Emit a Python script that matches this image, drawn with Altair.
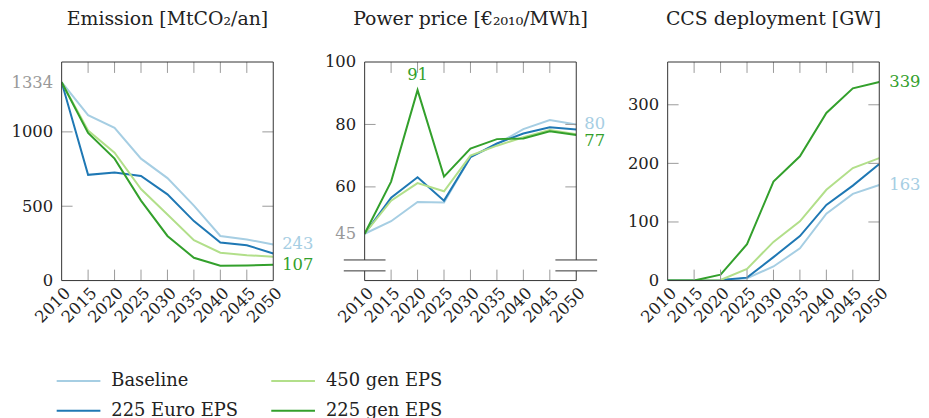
import altair as alt
import pandas as pd

FONT = "DejaVu Serif"
TXT = "#222222"
TICK = "#9a9a9a"
FRAME = "#333333"
W, H = 213, 220
TL = 11  # inward tick length

years = [2010, 2015, 2020, 2025, 2030, 2035, 2040, 2045, 2050]
scenarios = ["Baseline", "225 Euro EPS", "450 gen EPS", "225 gen EPS"]
colors = ["#a6cee3", "#1f78b4", "#b2df8a", "#33a02c"]

# Emission [MtCO2/an]
emission_baseline = [1334, 1113, 1027, 820, 689, 504, 300, 276, 243]
emission_euro225 = [1334, 711, 727, 704, 580, 400, 256, 238, 182]
emission_gen450 = [1334, 1009, 860, 616, 444, 271, 187, 171, 160]
emission_gen225 = [1334, 993, 820, 538, 300, 153, 100, 102, 107]

# Power price [EUR2010/MWh]
price_baseline = [45, 49.0, 55.2, 55.0, 69.5, 73.7, 78.5, 81.4, 80]
price_euro225 = [45, 56.5, 63.1, 55.6, 69.5, 73.9, 77.1, 79.1, 78.4]
price_gen450 = [45, 55.6, 61.2, 58.6, 70.0, 73.2, 75.9, 78.2, 76.9]
price_gen225 = [45, 61.7, 91, 63.3, 72.3, 75.3, 75.5, 77.8, 76.6]

# CCS deployment [GW]
ccs_baseline = [0, 0, 0, 4, 24, 55, 114, 148, 163]
ccs_euro225 = [0, 0, 1, 5, 40, 76, 129, 162, 199]
ccs_gen450 = [0, 0, 1, 20, 66, 101, 155, 192, 209]
ccs_gen225 = [0, 0, 10, 62, 169, 212, 286, 328, 339]

emission_domain = [0, 1470]
emission_ticks = [0, 500, 1000, 1334]
emission_inner = [500, 1000]
price_domain = [30, 100]
price_ticks = [45, 60, 80, 100]
price_inner = [60, 80]
price_break = [33.1, 36.6]
ccs_domain = [0, 373]
ccs_ticks = [0, 100, 200, 300]
ccs_inner = [100, 200, 300]

titles = ["Emission [MtCO\u2082/an]", "Power price [\u20ac\u2082\u2080\u2081\u2080/MWh]", "CCS deployment [GW]"]


def long_df(series):
    rows = []
    for scen, vals in series.items():
        for yr, v in zip(years, vals):
            rows.append({"year": yr, "value": v, "scenario": scen})
    return pd.DataFrame(rows)


xscale = alt.Scale(domain=[2010, 2050], nice=False, zero=False)
cscale = alt.Scale(domain=scenarios, range=colors)
legend = alt.Legend(
    title=None, orient="none", legendX=5, legendY=309, columns=2,
    symbolType="M-2,0H2", symbolSize=484, symbolStrokeWidth=2,
    labelFont=FONT, labelFontSize=18, labelColor=TXT, labelOffset=21,
    columnPadding=29, rowPadding=9, padding=0,
)
xaxis = alt.Axis(
    values=years, format="d", labelAngle=-45, title=None, grid=False,
    domain=False, ticks=False, tickSize=0, labelPadding=4, labelFlush=False,
    labelOverlap=False, labelFont=FONT, labelFontSize=16.5, labelColor=TXT)


def one(d):
    return alt.Chart(pd.DataFrame([d]))


def panel(series, ydomain, yticks, inner, gray_tick, labels, title, title_offset, breaks=None):
    df = long_df(series)
    yscale = alt.Scale(domain=ydomain, nice=False, zero=False)
    yaxis = alt.Axis(
        values=yticks, format="d", title=None, grid=False, domain=False, ticks=False, tickSize=0,
        labelPadding=9, labelFlush=False, labelOverlap=False, labelFont=FONT,
        labelFontSize=16.5,
        labelColor={"condition": {"test": f"datum.value === {gray_tick}", "value": "#999999"}, "value": TXT})

    def X(f):
        return alt.X(f, scale=xscale, axis=xaxis)

    def Y(f):
        return alt.Y(f, scale=yscale, axis=yaxis)

    lines = alt.Chart(df).mark_line(strokeWidth=2, clip=True).encode(
        x=X("year:Q"), y=Y("value:Q"),
        color=alt.Color("scenario:N", scale=cscale, legend=legend),
        order=alt.Order("ord:Q"),
    ).transform_calculate(ord=f"indexof({scenarios}, datum.scenario)")

    layers = [lines]
    # end / peak labels
    for (scen, yr, val, txt, dx, dy, align) in labels:
        layers.append(one({"year": yr, "value": val, "scenario": scen, "t": txt}).mark_text(
            align=align, baseline="middle", dx=dx, dy=dy, font=FONT, fontSize=16.5).encode(
            x=X("year:Q"), y=Y("value:Q"),
            color=alt.Color("scenario:N", scale=cscale, legend=None),
            text="t:N"))

    # inward ticks
    xt = pd.DataFrame({"year": years[1:-1]})
    yt = pd.DataFrame({"value": inner})
    for a, b in [(0, TL), (H - TL, H)]:
        layers.append(alt.Chart(xt).mark_rule(color=TICK, strokeWidth=1).encode(
            x=X("year:Q"), y=alt.value(a), y2=alt.value(b)))
    for a, b in [(0, TL), (W - TL, W)]:
        layers.append(alt.Chart(yt).mark_rule(color=TICK, strokeWidth=1).encode(
            y=Y("value:Q"), x=alt.value(a), x2=alt.value(b)))

    # frame
    layers.append(one({"k": 0}).mark_rule(color=FRAME, strokeWidth=1).encode(
        x=alt.value(0), x2=alt.value(W), y=alt.value(0)))
    layers.append(one({"k": 0}).mark_rule(color=FRAME, strokeWidth=1).encode(
        x=alt.value(0), x2=alt.value(W), y=alt.value(H)))
    if breaks is None:
        for xv in (0, W):
            layers.append(one({"k": 0}).mark_rule(color=FRAME, strokeWidth=1).encode(
                x=alt.value(xv), y=alt.value(0), y2=alt.value(H)))
    else:
        lo, hi = breaks
        segs = pd.DataFrame({"value": [ydomain[0], hi], "b": [lo, ydomain[1]]})
        bk = pd.DataFrame({"value": breaks})
        for xv in (0, W):
            layers.append(alt.Chart(segs).mark_rule(color=FRAME, strokeWidth=1).encode(
                x=alt.value(xv), y=Y("value:Q"), y2="b:Q"))
            layers.append(alt.Chart(bk).mark_rule(color=FRAME, strokeWidth=1).encode(
                x=alt.value(xv - 21), x2=alt.value(xv + 21), y=Y("value:Q")))

    return alt.layer(*layers).properties(
        width=W, height=H,
        title=alt.TitleParams(title, font=FONT, fontSize=19, fontWeight="normal", color=TXT,
                              anchor="middle", frame="group", baseline="top",
                              offset=title_offset),
    )


p1 = panel({"Baseline": emission_baseline, "225 Euro EPS": emission_euro225,
            "450 gen EPS": emission_gen450, "225 gen EPS": emission_gen225},
           emission_domain, emission_ticks, emission_inner, 1334,
           [("Baseline", 2050, emission_baseline[-1], str(emission_baseline[-1]), 9, 0, "left"),
            ("225 gen EPS", 2050, emission_gen225[-1], str(emission_gen225[-1]), 9, 0, "left")],
           titles[0], 33)
p2 = panel({"Baseline": price_baseline, "225 Euro EPS": price_euro225,
            "450 gen EPS": price_gen450, "225 gen EPS": price_gen225},
           price_domain, price_ticks, price_inner, 45,
           [("225 gen EPS", 2020, price_gen225[2], str(round(price_gen225[2])), 0, -15, "center"),
            ("Baseline", 2050, price_baseline[-1], str(round(price_baseline[-1])), 8, 0, "left"),
            ("225 gen EPS", 2050, price_gen225[-1], str(round(price_gen225[-1])), 8, 6, "left")],
           titles[1], 25, breaks=price_break)
p3 = panel({"Baseline": ccs_baseline, "225 Euro EPS": ccs_euro225,
            "450 gen EPS": ccs_gen450, "225 gen EPS": ccs_gen225},
           ccs_domain, ccs_ticks, ccs_inner, -1,
           [("225 gen EPS", 2050, ccs_gen225[-1], str(ccs_gen225[-1]), 10, 0, "left"),
            ("Baseline", 2050, ccs_baseline[-1], str(ccs_baseline[-1]), 10, 0, "left")],
           titles[2], 33)

chart = alt.hconcat(p1, p2, p3, spacing=92, bounds="flush").properties(
    padding={"left": 3, "top": 0, "right": 0, "bottom": 0}
).configure_view(stroke=None)

chart.save("out.html", embed_options={"renderer": "svg", "actions": False})
